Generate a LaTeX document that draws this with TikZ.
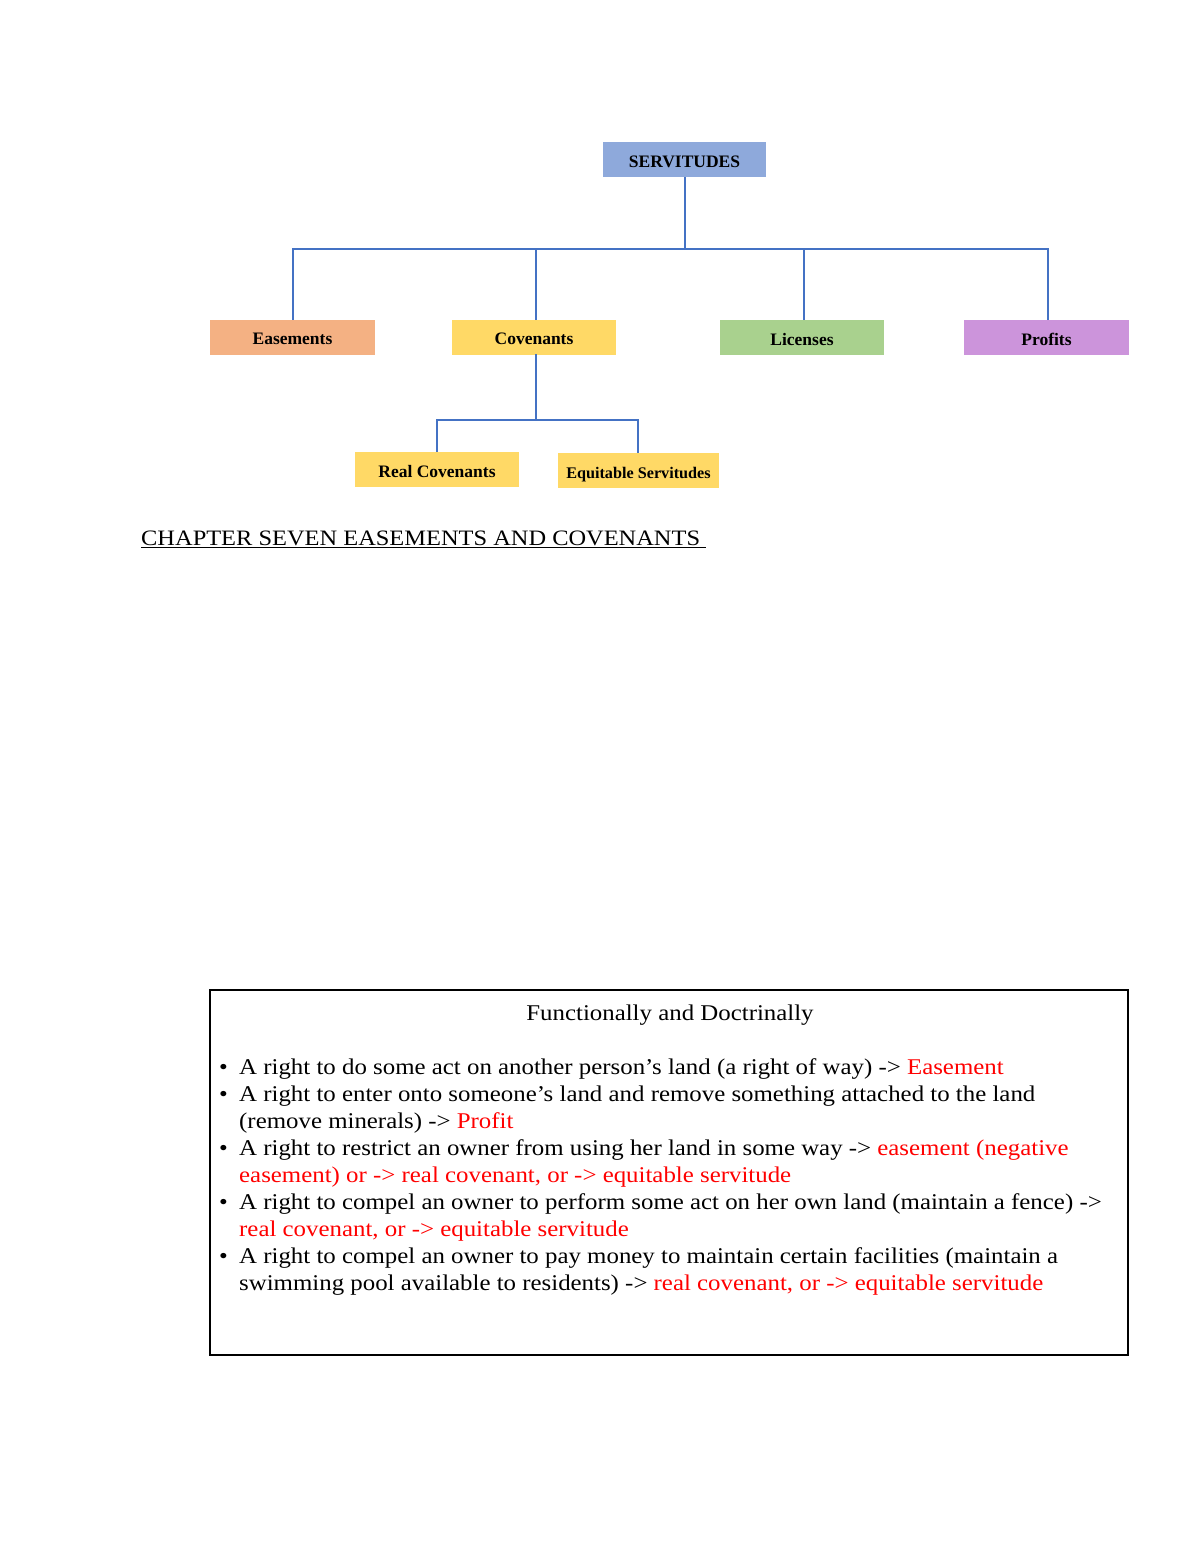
\documentclass[tikz,border=0pt]{standalone}
\usepackage{fontspec}
\setmainfont{Liberation Serif}
\newfontfamily\widefont[FakeStretch=1.105]{Liberation Serif}
\newfontfamily\chapfont[FakeStretch=1.11]{Liberation Serif}
\begin{document}
\begin{tikzpicture}[x=1pt,y=-1pt,
  catbox/.style={draw=none,minimum height=35pt,inner sep=0pt,text height=15.5pt,text depth=0pt,font=\fontsize{17.5}{19}\selectfont\bfseries},
  link/.style={draw={rgb,255:red,68;green,114;blue,196},line width=1.2pt},
  bodytext/.style={anchor=base west,inner sep=0pt,font=\widefont\fontsize{22.5}{26}\selectfont},
  bulletmark/.style={anchor=base west,inner sep=0pt,font=\widefont\fontsize{22.5}{26}\selectfont}]
\definecolor{servblue}{RGB}{142,169,219}
\definecolor{easeorange}{RGB}{244,177,131}
\definecolor{covyellow}{RGB}{255,217,102}
\definecolor{licgreen}{RGB}{169,209,142}
\definecolor{profpurple}{RGB}{204,148,219}
\definecolor{redtext}{RGB}{255,0,0}
\useasboundingbox (0,0) rectangle (1200,1553);
\fill[white] (0,0) rectangle (1200,1553);

% category boxes
\node[catbox,fill=servblue,minimum width=163pt] (serv) at (684.5,159.5) {SERVITUDES};
\node[catbox,fill=easeorange,minimum width=165pt] (ease) at (292.5,337) {Easements};
\node[catbox,fill=covyellow,minimum width=164pt] (cov) at (534,337) {Covenants};
\node[catbox,fill=licgreen,minimum width=164pt] (lic) at (802,337.5) {Licenses};
\node[catbox,fill=profpurple,minimum width=165pt] (prof) at (1046.5,337.5) {Profits};
\node[catbox,fill=covyellow,minimum width=164pt] (real) at (437,469.5) {Real Covenants};
\node[catbox,fill=covyellow,minimum width=161pt,font=\fontsize{16.2}{18}\selectfont\bfseries] (equi) at (638.5,470.5) {Equitable Servitudes};

% connectors
\coordinate (hub) at (685,249);
\coordinate (covhub) at (536,420);
\draw[link] (serv.south) ++(0.5,0) -- (hub);
\draw[link] (hub) -| (293,320);
\draw[link] (hub) -| (1048,320);
\draw[link] (536,249) -- (536,320);
\draw[link] (804,249) -- (804,320);
\draw[link] (536,354) -- (covhub);
\draw[link] (covhub) -| (437,452);
\draw[link] (covhub) -| (638,453);

% chapter title
\node[anchor=base west,inner sep=0pt,font=\chapfont\fontsize{22}{25}\selectfont] (chap) at (141,545) {\underline{CHAPTER SEVEN EASEMENTS AND COVENANTS\ }};

% bottom box
\draw[line width=2pt] (210,990) rectangle (1128,1355);
\node[anchor=base,inner sep=0pt,font=\widefont\fontsize{22.5}{26}\selectfont] (ftitle) at (670,1020) {Functionally and Doctrinally};

\node[bulletmark] (b1) at (219,1074.5) {•};
\node[bodytext] (l1) at (239,1074.5) {A right to do some act on another person’s land (a right of way) -> \textcolor{redtext}{Easement}};
\node[bulletmark] (b2) at (219,1101.5) {•};
\node[bodytext] (l2) at (239,1101.5) {A right to enter onto someone’s land and remove something attached to the land};
\node[bodytext] (l3) at (239,1128.5) {(remove minerals) -> \textcolor{redtext}{Profit}};
\node[bulletmark] (b3) at (219,1155.5) {•};
\node[bodytext] (l4) at (239,1155.5) {A right to restrict an owner from using her land in some way -> \textcolor{redtext}{easement (negative}};
\node[bodytext,text=redtext] (l5) at (239,1182.5) {easement) or -> real covenant, or -> equitable servitude};
\node[bulletmark] (b4) at (219,1209.5) {•};
\node[bodytext] (l6) at (239,1209.5) {A right to compel an owner to perform some act on her own land (maintain a fence) ->};
\node[bodytext,text=redtext] (l7) at (239,1236.5) {real covenant, or -> equitable servitude};
\node[bulletmark] (b5) at (219,1263.5) {•};
\node[bodytext] (l8) at (239,1263.5) {A right to compel an owner to pay money to maintain certain facilities (maintain a};
\node[bodytext] (l9) at (239,1290.5) {swimming pool available to residents) -> \textcolor{redtext}{real covenant, or -> equitable servitude}};
\end{tikzpicture}
\end{document}
